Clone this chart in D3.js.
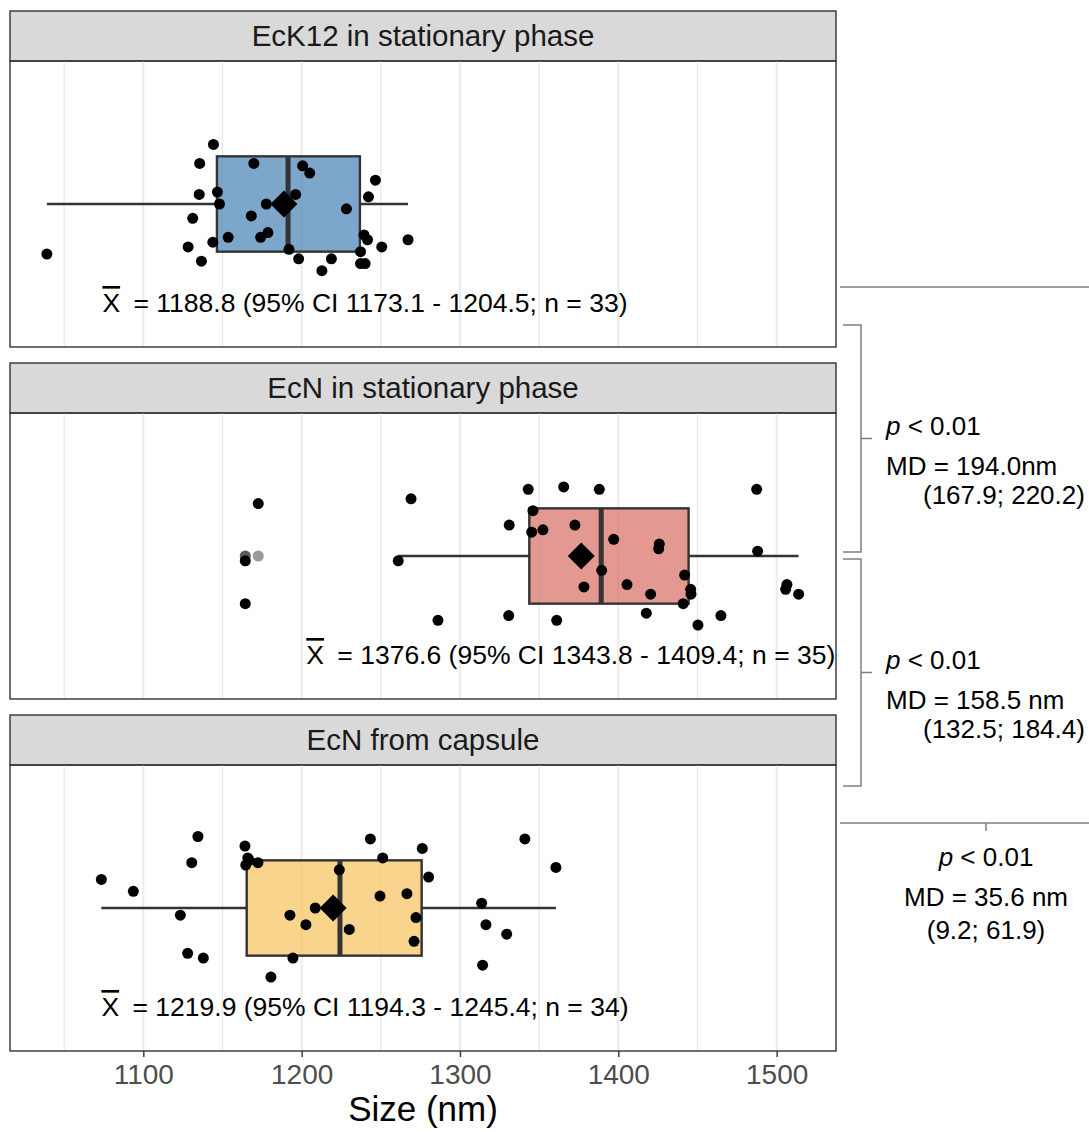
<!DOCTYPE html>
<html>
<head>
<meta charset="utf-8">
<script src="https://cdn.jsdelivr.net/npm/d3@7"></script>
<style>
  body { margin: 0; background: #fff; }
  svg { display: block; font-family: "Liberation Sans", Arial, Helvetica, sans-serif; }
</style>
</head>
<body>
<svg id="chart" width="1089" height="1132"></svg>
<script>
// ---- data -------------------------------------------------------------
const groups = ["EcK12 in stationary phase", "EcN in stationary phase", "EcN from capsule"];
const fillColors = ["#4682B4", "#D76D63", "#F5C25C"];

// measured particle sizes (nm) and their vertical jitter (band units)
const sizesEcK12 = [1039.1, 1144.3, 1135.6, 1169.8, 1200.6, 1205.1, 1246.6, 1135.3, 1146.8, 1196.2, 1242.2,
  1148.1, 1177.7, 1228.3, 1131.2, 1168.2, 1178.7, 1174.1, 1153.6, 1143.9, 1239.4, 1241.6,
  1250.6, 1267.2, 1128.3, 1192.0, 1237.2, 1136.7, 1198.1, 1218.8, 1212.8, 1237.2, 1240.1];
const jitterEcK12 = [0.21, -0.25, -0.17, -0.17, -0.16, -0.13, -0.10, -0.04, -0.05, -0.04, -0.03,
  0.00, 0.00, 0.02, 0.06, 0.05, 0.12, 0.14, 0.14, 0.16, 0.13, 0.15,
  0.18, 0.15, 0.18, 0.19, 0.20, 0.24, 0.23, 0.23, 0.28, 0.25, 0.25];

const sizesEcNStat = [1172.6, 1164.4, 1164.4, 1269.1, 1261.0, 1343.1, 1365.5, 1388.0, 1487.4, 1346.1, 1331.1,
  1372.6, 1345.3, 1352.4, 1397.1, 1425.9, 1425.5, 1488.0, 1389.5, 1378.3, 1405.5, 1441.9,
  1445.7, 1445.9, 1420.4, 1441.0, 1506.5, 1505.7, 1513.9, 1286.1, 1330.8, 1361.1, 1417.7,
  1450.3, 1464.8];
const jitterEcNStat = [-0.22, 0.02, 0.20, -0.24, 0.02, -0.28, -0.29, -0.28, -0.28, -0.19, -0.13,
  -0.13, -0.10, -0.11, -0.07, -0.05, -0.03, -0.02, 0.06, 0.13, 0.12, 0.08,
  0.14, 0.16, 0.16, 0.20, 0.12, 0.14, 0.16, 0.27, 0.25, 0.27, 0.24,
  0.29, 0.25];

const sizesEcNCaps = [1073.5, 1093.7, 1123.4, 1134.5, 1130.6, 1128.0, 1137.9, 1164.2, 1166.9, 1164.7, 1172.4,
  1180.6, 1194.5, 1192.6, 1202.7, 1208.6, 1223.8, 1230.1, 1243.4, 1251.2, 1249.5, 1266.5,
  1276.2, 1280.2, 1272.2, 1271.0, 1341.0, 1360.6, 1313.7, 1316.4, 1329.5, 1314.3, 1222.0,
  1166.0];
const jitterEcNCaps = [-0.12, -0.07, 0.03, -0.30, -0.19, 0.19, 0.21, -0.26, -0.20, -0.18, -0.19,
  0.29, 0.21, 0.03, 0.07, 0.00, -0.16, 0.09, -0.29, -0.21, -0.05, -0.06,
  -0.25, -0.13, 0.04, 0.14, -0.29, -0.17, -0.02, 0.07, 0.11, 0.24, 0.00,
  -0.21];

const groupSizes = [sizesEcK12, sizesEcNStat, sizesEcNCaps];
const groupJitter = [jitterEcK12, jitterEcNStat, jitterEcNCaps];

// box statistics: lower whisker, Q1, median, Q3, upper whisker
const whiskerLow = [1039.1, 1261.0, 1073.5];
const quart1 = [1146.5, 1343.8, 1165.3];
const medians = [1191.4, 1389.2, 1224.2];
const quart3 = [1236.8, 1444.4, 1275.8];
const whiskerHigh = [1267.2, 1513.9, 1360.6];

// group means with 95% confidence interval
const means = [1188.8, 1376.6, 1219.9];
const ciLow = [1173.1, 1343.8, 1194.3];
const ciHigh = [1204.5, 1409.4, 1245.4];
const counts = [33, 35, 34];
const labelAt = [1240, 1370, 1240];

// axis ticks
const xTicks = [1100, 1200, 1300, 1400, 1500];
const xMinorTicks = [1050, 1150, 1250, 1350, 1450];
const xDomain = [1015.8, 1537.5];

// pairwise comparisons (1 vs 2, 2 vs 3, 1 vs 3)
const pairP = ["< 0.01", "< 0.01", "< 0.01"];
const pairMD = ["MD = 194.0nm", "MD = 158.5 nm", "MD = 35.6 nm"];
const pairCI = ["(167.9; 220.2)", "(132.5; 184.4)", "(9.2; 61.9)"];

// ---- layout -----------------------------------------------------------
const svg = d3.select("#chart");
const plotLeft = 10, plotRight = 836;
const facetTop0 = 11, facetStep = 352, stripH = 50, bodyH = 286;
const borderCol = "#333333";

const x = d3.scaleLinear().domain(xDomain).range([plotLeft, plotRight]);

const facets = groups.map((name, i) => {
  const top = facetTop0 + i * facetStep;
  const bodyTop = top + stripH;
  const y = d3.scaleLinear().domain([-0.6, 0.6]).range([bodyTop, bodyTop + bodyH]);
  return { name, i, top, bodyTop, y };
});

facets.forEach(f => {
  const g = svg.append("g");
  const i = f.i;

  // strip
  g.append("rect")
    .attr("x", plotLeft).attr("y", f.top)
    .attr("width", plotRight - plotLeft).attr("height", stripH)
    .attr("fill", "#D9D9D9").attr("stroke", borderCol).attr("stroke-width", 1.4);
  g.append("text")
    .attr("x", (plotLeft + plotRight) / 2).attr("y", f.top + 34.5)
    .attr("text-anchor", "middle").attr("font-size", 29.5).attr("fill", "#1A1A1A")
    .text(f.name);

  // grid
  const bodyBottom = f.bodyTop + bodyH;
  g.selectAll("line.minor").data(xMinorTicks).join("line")
    .attr("x1", d => x(d)).attr("x2", d => x(d))
    .attr("y1", f.bodyTop).attr("y2", bodyBottom)
    .attr("stroke", "#EBEBEB").attr("stroke-width", 1.5);
  g.selectAll("line.major").data(xTicks).join("line")
    .attr("x1", d => x(d)).attr("x2", d => x(d))
    .attr("y1", f.bodyTop).attr("y2", bodyBottom)
    .attr("stroke", "#EBEBEB").attr("stroke-width", 2);

  const y = f.y;
  const half = 0.2;

  // whiskers
  g.append("line")
    .attr("x1", x(whiskerLow[i])).attr("x2", x(quart1[i]))
    .attr("y1", y(0)).attr("y2", y(0))
    .attr("stroke", borderCol).attr("stroke-width", 2.4);
  g.append("line")
    .attr("x1", x(quart3[i])).attr("x2", x(whiskerHigh[i]))
    .attr("y1", y(0)).attr("y2", y(0))
    .attr("stroke", borderCol).attr("stroke-width", 2.4);

  // box
  g.append("rect")
    .attr("x", x(quart1[i])).attr("y", y(-half))
    .attr("width", x(quart3[i]) - x(quart1[i]))
    .attr("height", y(half) - y(-half))
    .attr("fill", fillColors[i]).attr("fill-opacity", 0.7)
    .attr("stroke", borderCol).attr("stroke-width", 2.4);
  g.append("line")
    .attr("x1", x(medians[i])).attr("x2", x(medians[i]))
    .attr("y1", y(-half)).attr("y2", y(half))
    .attr("stroke", borderCol).attr("stroke-width", 5);

  // outliers beyond the whiskers
  const pts = groupSizes[i].map((v, k) => ({ v, j: groupJitter[i][k] }));
  const outliers = pts.filter(p => p.v < whiskerLow[i] || p.v > whiskerHigh[i]);
  g.selectAll("circle.out").data(outliers).join("circle")
    .attr("cx", d => x(d.v)).attr("cy", y(0)).attr("r", 5.5)
    .attr("fill", "#000").attr("fill-opacity", 0.4);

  // jittered observations
  g.selectAll("circle.pt").data(pts).join("circle")
    .attr("cx", d => x(d.v)).attr("cy", d => y(d.j)).attr("r", 5.5)
    .attr("fill", "#000");

  // mean
  const dm = 13.5;
  g.append("path")
    .attr("d", `M0,${-dm}L${dm},0L0,${dm}L${-dm},0Z`)
    .attr("transform", `translate(${x(means[i])},${y(0)})`)
    .attr("fill", "#000");

  // mean label
  const t = g.append("text")
    .attr("x", x(labelAt[i])).attr("y", y(0) + 108)
    .attr("text-anchor", "middle").attr("font-size", 26.5).attr("fill", "#000");
  t.append("tspan").style("text-decoration", "overline").text("X");
  t.append("tspan").attr("dx", 6)
    .text(` = ${means[i].toFixed(1)} (95% CI ${ciLow[i].toFixed(1)} - ${ciHigh[i].toFixed(1)}; n = ${counts[i]})`);

  // panel border
  g.append("rect")
    .attr("x", plotLeft).attr("y", f.bodyTop)
    .attr("width", plotRight - plotLeft).attr("height", bodyH)
    .attr("fill", "none").attr("stroke", borderCol).attr("stroke-width", 1.4);
});

// ---- x axis -----------------------------------------------------------
const axisY = facets[2].bodyTop + bodyH;
const axisG = svg.append("g")
  .attr("transform", `translate(0,${axisY})`)
  .call(d3.axisBottom(x).tickValues(xTicks).tickSize(6).tickPadding(7).tickFormat(d3.format("d")));
axisG.select(".domain").remove();
axisG.selectAll(".tick line").attr("stroke", borderCol).attr("stroke-width", 1.4);
axisG.selectAll(".tick text")
  .attr("font-size", 28).attr("fill", "#4D4D4D")
  .attr("font-family", "Liberation Sans, Arial, sans-serif");

svg.append("text")
  .attr("x", (plotLeft + plotRight) / 2)
  .attr("y", 1121)
  .attr("text-anchor", "middle").attr("font-size", 35).attr("fill", "#000")
  .text("Size (nm)");

// ---- pairwise comparisons --------------------------------------------
const annCol = "#7F7F7F";
const c = facets.map(f => f.y(0));
const bx = 861, bLeft = 843, bTick = 872, lineL = 840, lineR = 1089;
const ann = svg.append("g").attr("stroke", annCol).attr("stroke-width", 1.5).attr("fill", "none");

// adjacent-group brackets
const brackets = [[c[0] + 121, c[1] - 4], [c[1] + 3, c[2] - 122]];
brackets.forEach(([y0, y1]) => {
  const ym = (y0 + y1) / 2;
  ann.append("path").attr("d", `M${bLeft},${y0}H${bx}V${y1}H${bLeft}`);
  ann.append("path").attr("d", `M${bx},${ym}H${bTick}`);
});

// outer comparison rule
ann.append("path").attr("d", `M${lineL},${c[0] + 83}H${lineR}`);
const outerY = c[2] - 85;
ann.append("path").attr("d", `M${lineL},${outerY}H${lineR}`);
ann.append("path").attr("d", `M986,${outerY}V${outerY + 8}`);

const txt = svg.append("g").attr("font-size", 26).attr("fill", "#000");
function pLine(xPos, yPos, anchor, k) {
  const t = txt.append("text").attr("x", xPos).attr("y", yPos).attr("text-anchor", anchor);
  t.append("tspan").attr("font-style", "italic").text("p");
  t.append("tspan").text(" " + pairP[k]);
}
brackets.forEach(([y0, y1], k) => {
  const ym = (y0 + y1) / 2;
  pLine(886, ym - 4, "start", k);
  txt.append("text").attr("x", 886).attr("y", ym + 36).text(pairMD[k]);
  txt.append("text").attr("x", 923).attr("y", ym + 65).text(pairCI[k]);
});
pLine(986, outerY + 43, "middle", 2);
txt.append("text").attr("x", 986).attr("y", outerY + 83).attr("text-anchor", "middle").text(pairMD[2]);
txt.append("text").attr("x", 986).attr("y", outerY + 116).attr("text-anchor", "middle").text(pairCI[2]);
</script>
</body>
</html>
